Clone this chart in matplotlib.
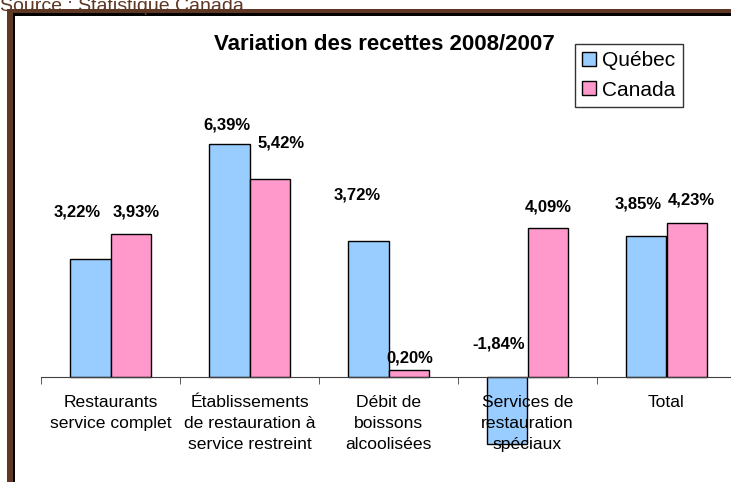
import matplotlib.pyplot as plt
from matplotlib.patches import Rectangle
import numpy as np

plt.rcParams['font.family'] = ['Liberation Sans', 'DejaVu Sans']

'''
DATA
'''
categories = ['Restaurants\nservice complet',
              'Établissements\nde restauration à\nservice restreint',
              'Débit de\nboissons\nalcoolisées',
              'Services de\nrestauration\nspéciaux',
              'Total']
quebec = [3.22, 6.39, 3.72, -1.84, 3.85]
canada = [3.93, 5.42, 0.20, 4.09, 4.23]
series_names = ['Québec', 'Canada']
title = 'Variation des recettes 2008/2007'
source = 'Source : Statistique Canada'

# label offsets (pixels) from the top of each bar, labels were moved by hand in the original
off_quebec = [(-13.5, 47.5), (-2.5, 19), (-11.5, 46), (-8.5, 33), (-8.5, 32.5)]
off_canada = [(5.5, 21.6), (11.5, 36), (1.5, 12), (0.5, 20.7), (4.5, 22.6)]

W, H = 731, 482
brown = '#5e3824'
col_q = '#99ccff'
col_c = '#ff99cc'

fig = plt.figure(figsize=(W/100, H/100), dpi=100)

def fx(px):
    return px/W

def fy(py):
    return 1 - py/H

# frame around the chart (brown band + thin black line)
fig.add_artist(Rectangle((fx(7), 0), fx(13)-fx(7), fy(9), transform=fig.transFigure, color=brown, lw=0))
fig.add_artist(Rectangle((fx(7), fy(13.3)), 1, fy(9)-fy(13.3), transform=fig.transFigure, color=brown, lw=0))
fig.add_artist(Rectangle((fx(13), 0), fx(15)-fx(13), fy(13.3), transform=fig.transFigure, color='black', lw=0))
fig.add_artist(Rectangle((fx(13), fy(15.5)), 1, fy(13.3)-fy(15.5), transform=fig.transFigure, color='black', lw=0))

fig.text(0.0, fy(11), source, fontsize=14, color=brown, ha='left', va='baseline')

# plot area: x 41 -> 736 px, zero line at y = 377 px, 36.5 px per %
ymin, ymax = -2.5, 8.2
ppu = 36.5
top_px = 377 - ymax*ppu
bot_px = 377 - ymin*ppu
ax = fig.add_axes([fx(41), fy(bot_px), (736-41)/W, (bot_px-top_px)/H])
ax.set_xlim(-0.5, 4.5)
ax.set_ylim(ymin, ymax)

x = np.arange(len(categories))
w = 0.288
bq = ax.bar(x - w/2, quebec, w, color=col_q, edgecolor='black', lw=1, label=series_names[0])
bc = ax.bar(x + w/2, canada, w, color=col_c, edgecolor='black', lw=1, label=series_names[1])

def fmt(v):
    return f'{v:.2f}'.replace('.', ',') + '%'

for xs, vals, offs in [(x - w/2, quebec, off_quebec), (x + w/2, canada, off_canada)]:
    for xi, v, (dx, dy) in zip(xs, vals, offs):
        ax.annotate(fmt(v), (xi, max(v, 0)), xytext=(dx*0.72, dy*0.72), textcoords='offset points',
                    ha='center', va='center', fontsize=12, fontweight='bold')

for s in ['top', 'right', 'left']:
    ax.spines[s].set_visible(False)
ax.spines['bottom'].set_position(('data', 0))
ax.spines['bottom'].set_color('#404040')
ax.set_yticks([])
ax.set_xticks(x)
ax.set_xticklabels(categories, fontsize=12.6, linespacing=1.5)
ax.tick_params(axis='x', which='major', length=0, pad=13)
ax.set_xticks(np.arange(-0.5, 5, 1), minor=True)
ax.tick_params(axis='x', which='minor', length=5, color='#404040', direction='out')
ax.patch.set_visible(False)

fig.text(fx(384), fy(45), title, fontsize=16, fontweight='bold', ha='center', va='center')

leg = fig.legend(handles=[bq, bc], loc='upper left', bbox_to_anchor=(fx(575), fy(44)),
                 fontsize=15, frameon=True, fancybox=False, edgecolor='black',
                 handlelength=0.65, handleheight=0.65, handletextpad=0.3, borderpad=0.35,
                 labelspacing=0.5, borderaxespad=0)
leg.get_frame().set_linewidth(1)

fig.savefig('out.png', dpi=100)
